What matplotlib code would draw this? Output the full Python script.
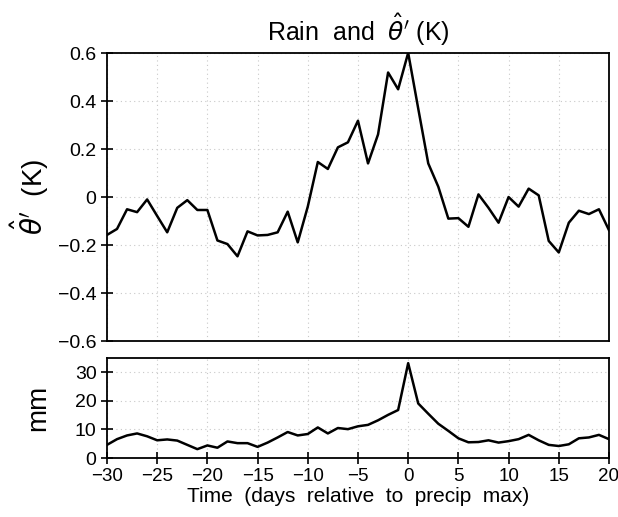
import matplotlib
matplotlib.use('Agg')
import matplotlib.pyplot as plt
import numpy as np

days = np.arange(-30, 21)

theta = [-0.158, -0.133, -0.051, -0.063, -0.010, -0.079, -0.147, -0.045, -0.013, -0.054,
         -0.054, -0.181, -0.196, -0.247, -0.143, -0.160, -0.158, -0.147, -0.061, -0.189,
         -0.040, 0.146, 0.117, 0.207, 0.228, 0.318, 0.140, 0.261, 0.519, 0.449,
         0.601, 0.369, 0.140, 0.043, -0.090, -0.088, -0.124, 0.011, -0.045, -0.107,
         0.000, -0.040, 0.035, 0.007, -0.183, -0.231, -0.107, -0.057, -0.071, -0.051,
         -0.138]

rain = [4.6, 6.6, 7.9, 8.6, 7.6, 6.2, 6.5, 6.1, 4.6, 3.1,
        4.4, 3.6, 5.8, 5.2, 5.2, 3.9, 5.4, 7.2, 9.1, 7.9,
        8.4, 10.7, 8.6, 10.5, 10.1, 11.1, 11.6, 13.2, 15.1, 16.8,
        33.2, 19.1, 15.5, 12.0, 9.5, 6.9, 5.5, 5.6, 6.2, 5.4,
        5.9, 6.6, 8.1, 6.2, 4.6, 4.2, 4.8, 6.9, 7.2, 8.1,
        6.6]

plt.rcParams['font.family'] = ['Liberation Sans', 'DejaVu Sans']
plt.rcParams['mathtext.fontset'] = 'dejavusans'

fig = plt.figure(figsize=(6.18, 5.17), dpi=100)
ax1 = fig.add_axes([0.1731, 0.3404, 0.8123, 0.557])
ax2 = fig.add_axes([0.1731, 0.1141, 0.8123, 0.1934])

grid_kw = dict(color='#c8c8c8', linestyle=(0, (1, 3)), linewidth=0.8)

ax1.plot(days, theta, color='black', linewidth=1.8)
ax1.set_xlim(-30, 20)
ax1.set_ylim(-0.6, 0.6)
ax1.set_yticks(np.arange(-0.6, 0.61, 0.2))
ax1.set_yticklabels(['\u22120.6', '\u22120.4', '\u22120.2', '0', '0.2', '0.4', '0.6'])
ax1.set_xticks(np.arange(-30, 21, 5))
ax1.tick_params(axis='x', length=0, labelbottom=False)
ax1.tick_params(axis='y', direction='inout', length=8, width=1.2, labelsize=14)
ax1.grid(True, **grid_kw)
ax1.set_ylabel(r"$\hat{\theta}'$  (K)", fontsize=20)
ax1.yaxis.set_label_coords(-0.112, 0.5)
ax1.set_title(r"Rain  and  $\hat{\theta}'$ (K)", fontsize=18, pad=9)

ax2.plot(days, rain, color='black', linewidth=1.8)
ax2.set_xlim(-30, 20)
ax2.set_ylim(0, 35)
ax2.set_yticks([0, 10, 20, 30])
ax2.set_xticks(np.arange(-30, 21, 5))
ax2.set_xticklabels([str(v).replace('-', '\u2212') for v in range(-30, 21, 5)])
ax2.tick_params(axis='both', direction='inout', length=8, width=1.2, labelsize=13.5)
ax2.tick_params(axis='y', labelsize=14)
ax2.grid(True, **grid_kw)
ax2.set_ylabel('mm', fontsize=20)
ax2.yaxis.set_label_coords(-0.112, 0.5)
ax2.set_xlabel('Time  (days  relative  to  precip  max)', fontsize=15, labelpad=1)

for ax in (ax1, ax2):
    for s in ax.spines.values():
        s.set_linewidth(1.3)

fig.savefig('out.png', dpi=100)
